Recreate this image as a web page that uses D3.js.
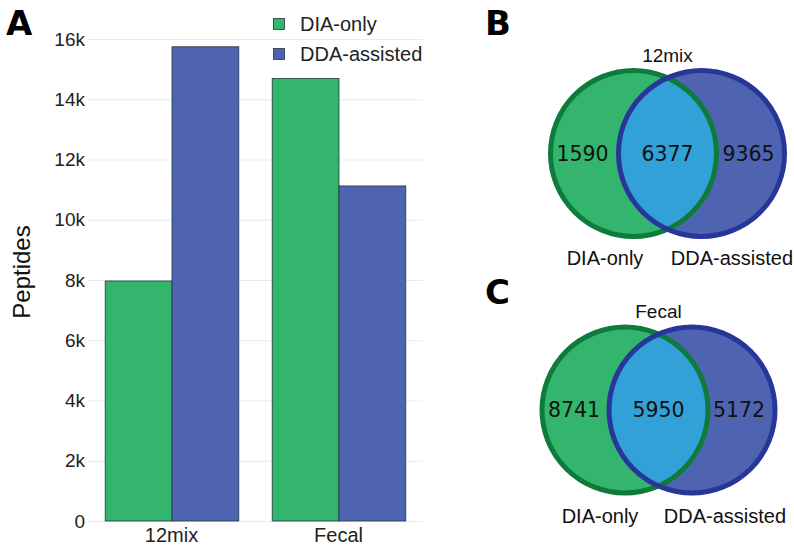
<!DOCTYPE html>
<html>
<head>
<meta charset="utf-8">
<script src="https://cdn.jsdelivr.net/npm/d3@7"></script>
<style>
  html, body { margin: 0; padding: 0; background: #fff; }
  svg { display: block; font-family: 'Liberation Sans', Arial, sans-serif; }
</style>
</head>
<body>
<svg id="fig" width="794" height="547"></svg>
<script>
// Peptide counts per sample: unique to each search strategy and shared
const samples = ["12mix", "Fecal"];
const seriesNames = ["DIA-only", "DDA-assisted"];
const diaOnlyUnique = [1590, 8741];
const sharedCounts = [6377, 5950];
const ddaUnique = [9365, 5172];
const yTicks = [0, 2000, 4000, 6000, 8000, 10000, 12000, 14000, 16000];

// Total peptides per strategy = unique + shared
const diaTotals = samples.map((s, i) => diaOnlyUnique[i] + sharedCounts[i]);
const ddaTotals = samples.map((s, i) => ddaUnique[i] + sharedCounts[i]);

const colors = { "DIA-only": "#34b56d", "DDA-assisted": "#4f64b0" };
const strokeColors = { "DIA-only": "#0e7a3c", "DDA-assisted": "#28369a" };
const overlapColor = "#31a1d8";
const sansFont = "'Liberation Sans', Arial, sans-serif";

const svg = d3.select("#fig");

// ---------- Panel A: grouped bars ----------
const plot = { left: 88, right: 423, top: 39, bottom: 521 };
const y = d3.scaleLinear().domain([0, 16000]).range([plot.bottom, plot.top]);
const x0 = d3.scaleBand().domain(samples).range([88, 422]).paddingInner(0.2).paddingOuter(0.1);
const x1 = d3.scaleBand().domain(seriesNames).range([0, x0.bandwidth()]);

const gA = svg.append("g");

// horizontal gridlines
gA.append("g").selectAll("line").data(yTicks).join("line")
  .attr("x1", plot.left).attr("x2", plot.right)
  .attr("y1", d => y(d) + 0.5).attr("y2", d => y(d) + 0.5)
  .attr("stroke", "#e5ebf3").attr("stroke-width", 1);

const yAxis = d3.axisLeft(y).tickValues(yTicks)
  .tickFormat(d => d === 0 ? "0" : (d / 1000) + "k").tickSize(0).tickPadding(3);
gA.append("g").attr("transform", `translate(${plot.left},0)`).call(yAxis)
  .call(g => g.select(".domain").remove())
  .call(g => g.attr("font-family", sansFont).attr("font-size", 19))
  .call(g => g.selectAll("text").attr("fill", "#222"));

const barRows = samples.map((s, i) => ({ sample: s, values: [
  { key: "DIA-only", value: diaTotals[i] },
  { key: "DDA-assisted", value: ddaTotals[i] }
]}));

gA.append("g").selectAll("g").data(barRows).join("g")
  .attr("transform", d => `translate(${x0(d.sample)},0)`)
  .selectAll("rect").data(d => d.values).join("rect")
  .attr("x", d => x1(d.key) + 0.5)
  .attr("y", d => y(d.value))
  .attr("width", x1.bandwidth())
  .attr("height", d => y(0) - y(d.value))
  .attr("fill", d => colors[d.key])
  .attr("stroke", "#253545").attr("stroke-width", 0.8);

const xAxis = d3.axisBottom(x0).tickSize(0).tickPadding(7);
gA.append("g").attr("transform", `translate(0,${plot.bottom})`).call(xAxis)
  .call(g => g.select(".domain").remove())
  .call(g => g.attr("font-family", sansFont).attr("font-size", 20))
  .call(g => g.selectAll("text").attr("fill", "#222").attr("dy", "0.72em"));

gA.append("text")
  .attr("transform", "translate(30,272) rotate(-90)")
  .attr("text-anchor", "middle").attr("font-size", 24).attr("fill", "#111")
  .text("Peptides");

// legend
const legend = gA.append("g").attr("transform", "translate(273,18)");
seriesNames.forEach((name, i) => {
  const row = legend.append("g").attr("transform", `translate(0,${i * 30})`);
  row.append("rect").attr("x", 0.5).attr("y", 0.5).attr("width", 11).attr("height", 11)
    .attr("fill", colors[name]).attr("stroke", "#253545").attr("stroke-width", 0.8);
  row.append("text").attr("x", 27).attr("y", 13).attr("font-size", 20).attr("fill", "#222").text(name);
});

// panel letters
const letter = (txt, xPos, yPos) => svg.append("text")
  .attr("x", xPos).attr("y", yPos).attr("font-size", 34).attr("font-weight", 900)
  .attr("font-family", "DejaVu Sans, sans-serif").attr("fill", "#000").text(txt);
letter("A", 6, 35);
letter("B", 485, 35);
letter("C", 485, 304);

// ---------- Panels B and C: two-set Venn diagrams ----------
const vennPanels = [
  { i: 0, cx: [633.5, 701.5], cy: 153.5, r: 83, titleY: 62, labelY: 265, labelX: [605, 732] },
  { i: 1, cx: [625, 692], cy: 410, r: 83, titleY: 318, labelY: 523, labelX: [600, 725] }
];

vennPanels.forEach(p => {
  const g = svg.append("g");
  const clipId = "clipDia" + p.i;
  g.append("clipPath").attr("id", clipId)
    .append("circle").attr("cx", p.cx[0]).attr("cy", p.cy).attr("r", p.r);

  g.append("circle").attr("cx", p.cx[0]).attr("cy", p.cy).attr("r", p.r).attr("fill", colors["DIA-only"]);
  g.append("circle").attr("cx", p.cx[1]).attr("cy", p.cy).attr("r", p.r).attr("fill", colors["DDA-assisted"]);
  g.append("circle").attr("cx", p.cx[1]).attr("cy", p.cy).attr("r", p.r)
    .attr("fill", overlapColor).attr("clip-path", `url(#${clipId})`);
  g.append("circle").attr("cx", p.cx[0]).attr("cy", p.cy).attr("r", p.r)
    .attr("fill", "none").attr("stroke", strokeColors["DIA-only"]).attr("stroke-width", 5);
  g.append("circle").attr("cx", p.cx[1]).attr("cy", p.cy).attr("r", p.r)
    .attr("fill", "none").attr("stroke", strokeColors["DDA-assisted"]).attr("stroke-width", 5);

  const mid = (p.cx[0] + p.cx[1]) / 2;
  const counts = [
    { v: diaOnlyUnique[p.i], x: p.cx[0] - 51 },
    { v: sharedCounts[p.i], x: mid },
    { v: ddaUnique[p.i], x: p.cx[1] + 47 }
  ];
  g.selectAll("text.count").data(counts).join("text").attr("class", "count")
    .attr("x", d => d.x).attr("y", p.cy + 7)
    .attr("text-anchor", "middle").attr("font-size", 20.5)
    .attr("font-family", "DejaVu Sans, sans-serif").attr("fill", "#111")
    .text(d => d.v);

  g.append("text").attr("x", mid).attr("y", p.titleY).attr("text-anchor", "middle")
    .attr("font-size", 19).attr("fill", "#111").text(samples[p.i]);
  g.append("text").attr("x", p.labelX[0]).attr("y", p.labelY).attr("text-anchor", "middle")
    .attr("font-size", 20).attr("fill", "#111").text(seriesNames[0]);
  g.append("text").attr("x", p.labelX[1]).attr("y", p.labelY).attr("text-anchor", "middle")
    .attr("font-size", 20).attr("fill", "#111").text(seriesNames[1]);
});
</script>
</body>
</html>
